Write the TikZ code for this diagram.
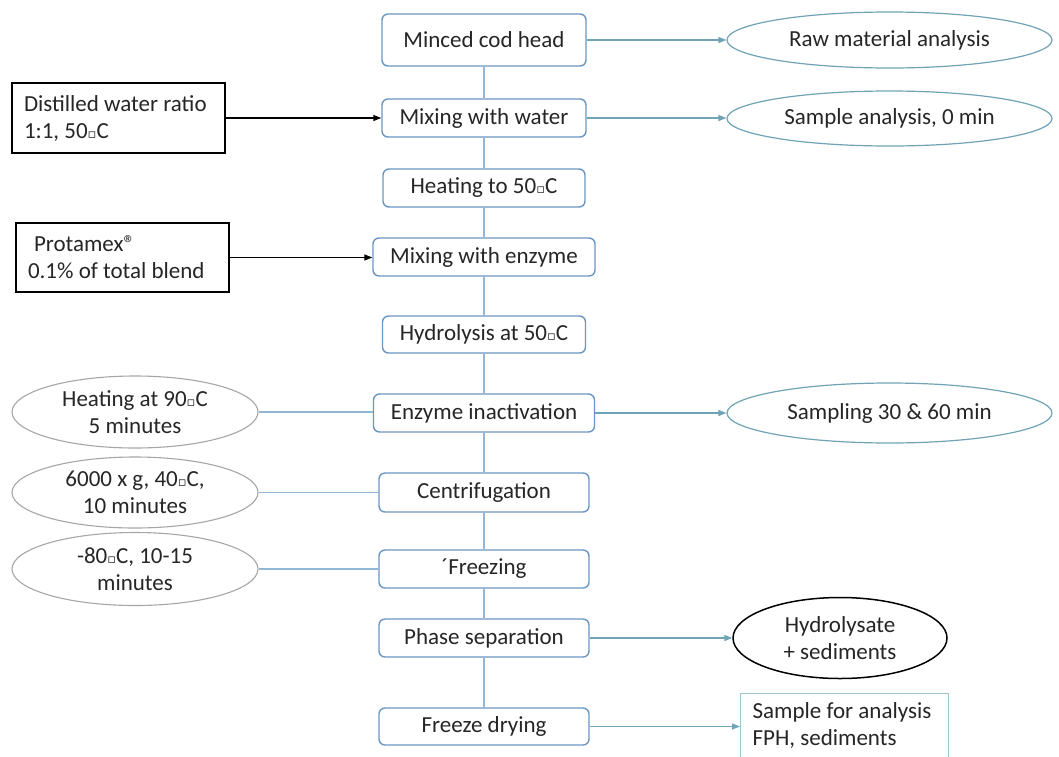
\documentclass[tikz,border=0pt]{standalone}
\usepackage{fontspec}
\setmainfont{Carlito}
\newfontfamily\dvs{DejaVu Sans}
\usetikzlibrary{shapes.geometric,arrows.meta}
\newcommand{\dg}{{\dvs\fontsize{13}{13}\selectfont ▫}}
\definecolor{boxblue}{HTML}{6B96C3}
\definecolor{linkblue}{HTML}{94B6D6}
\definecolor{tealc}{HTML}{6FA3B5}
\definecolor{grayc}{HTML}{A6A6A6}
\definecolor{samplec}{HTML}{9CC3CF}
\definecolor{txt}{HTML}{262626}
\tikzset{
  every node/.style={font=\fontsize{23}{27}\selectfont, text=txt, inner sep=0pt},
  stepbox/.style={draw=boxblue, line width=1.4pt, rounded corners=6pt, fill=white, align=center},
  inbox/.style={draw=black, line width=1.3pt, align=flush left, text width=#1, inner xsep=12pt},
  grayell/.style={ellipse, draw=grayc, line width=1.1pt, align=center, minimum width=246pt},
  tealell/.style={ellipse, draw=tealc, line width=1.2pt, align=center, minimum width=325pt},
  vlink/.style={draw=linkblue, line width=1.3pt},
  outarrow/.style={draw=tealc, line width=1.3pt, -{Triangle[length=8pt,width=6pt]}},
  inarrow/.style={draw=black, line width=1.3pt, -{Triangle[length=8pt,width=6pt]}},
}
\begin{document}
\begin{tikzpicture}[x=1pt,y=-1pt]
\clip (0,0) rectangle (1059,756);
\fill[white] (0,0) rectangle (1059,756);

% central column
\node[stepbox, minimum width=204pt, minimum height=52pt] (minced) at (484,40) {Minced cod head};
\node[stepbox, minimum width=204pt, minimum height=38pt] (mixw) at (484,118) {Mixing with water};
\node[stepbox, minimum width=202pt, minimum height=38pt] (heat) at (484,188) {Heating to 50\dg C};
\node[stepbox, minimum width=222pt, minimum height=38pt] (mixe) at (484,257) {Mixing with enzyme};
\node[stepbox, minimum width=203pt, minimum height=37pt] (hydro) at (484,334.5) {Hydrolysis at 50\dg C};
\node[stepbox, minimum width=221pt, minimum height=38pt] (inact) at (484,413) {Enzyme inactivation};
\node[stepbox, minimum width=210pt, minimum height=39pt] (centr) at (484,492.5) {Centrifugation};
\node[stepbox, minimum width=210pt, minimum height=38pt] (freez) at (484,569) {´Freezing};
\node[stepbox, minimum width=210pt, minimum height=38pt] (phase) at (484,638) {Phase separation};
\node[stepbox, minimum width=210pt, minimum height=37pt] (fdry) at (484,726.5) {Freeze drying};

\draw[vlink] (minced.south) -- (mixw.north);
\draw[vlink] (mixw.south) -- (heat.north);
\draw[vlink] (heat.south) -- (mixe.north);
\draw[vlink] (mixe.south) -- (hydro.north);
\draw[vlink] (hydro.south) -- (inact.north);
\draw[vlink] (inact.south) -- (centr.north);
\draw[vlink] (centr.south) -- (freez.north);
\draw[vlink] (freez.south) -- (phase.north);
\draw[vlink] (phase.south) -- (fdry.north);

% left inputs
\node[inbox=189pt, minimum height=70pt] (dist) at (118.5,118) {Distilled water ratio\\1:1, 50\dg C};
\node[inbox=189pt, minimum height=69pt] (prot) at (122.5,257.5) {\hspace*{6pt}Protamex®\\0.1\% of total blend};
\draw[inarrow] (dist.east) -- (dist.east -| mixw.west);
\draw[inarrow] (prot.east) -- (prot.east -| mixe.west);

\node[grayell, minimum height=72pt] (h90) at (135,412) {Heating at 90\dg C\\5 minutes};
\node[grayell, minimum height=71pt] (g6000) at (135,492.5) {6000 x g, 40\dg C,\\10 minutes};
\node[grayell, minimum height=73pt] (m80) at (135,569) {-80\dg C, 10-15\\minutes};
\draw[vlink] (h90.east) -- (h90.east -| inact.west);
\draw[vlink] (g6000.east) -- (g6000.east -| centr.west);
\draw[vlink] (m80.east) -- (m80.east -| freez.west);

% right outputs
\node[tealell, minimum height=56pt] (raw) at (889.5,40) {Raw material analysis};
\node[tealell, minimum height=55pt] (s0) at (889.5,118.5) {Sample analysis, 0 min};
\node[tealell, minimum height=60pt] (s3060) at (889.5,413) {Sampling 30 \& 60 min};
\node[ellipse, draw=black, line width=1.5pt, align=center, minimum width=214pt, minimum height=81pt] (hyd) at (840,638) {Hydrolysate\\+ sediments};
\node[draw=samplec, line width=1.2pt, align=flush left, anchor=north west, text width=184pt, inner xsep=12pt, inner ysep=9pt, text depth=40pt] (samp) at (740,693) {Sample for analysis\\FPH, sediments};

\draw[outarrow] (minced.east) -- (minced.east -| raw.west);
\draw[outarrow] (mixw.east) -- (mixw.east -| s0.west);
\draw[outarrow] (inact.east) -- (inact.east -| s3060.west);
\draw[outarrow] (phase.east) -- (phase.east -| hyd.west);
\draw[outarrow] (fdry.east) -- (fdry.east -| samp.west);
\end{tikzpicture}
\end{document}
